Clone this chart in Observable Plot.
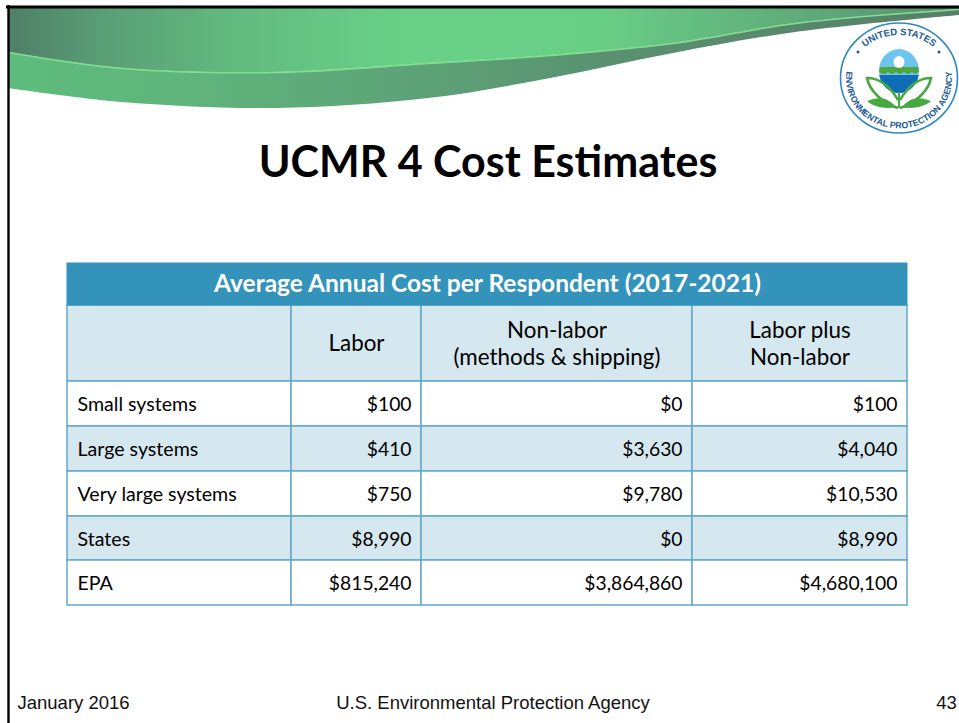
<!DOCTYPE html>
<html><head><meta charset="utf-8">
<script src="https://cdn.jsdelivr.net/npm/d3@7"></script>
<script src="https://cdn.jsdelivr.net/npm/@observablehq/plot@0.6"></script>
<style>html,body{margin:0;padding:0;background:#fff}svg{display:block}</style>
</head><body><div id="chart"></div>
<script>
const title = "UCMR 4 Cost Estimates";
const tableTitle = "Average Annual Cost per Respondent (2017-2021)";
const columnHeads = ["", "Labor", "Non-labor\n(methods & shipping)", "Labor plus\nNon-labor"];
const respondents = ["Small systems", "Large systems", "Very large systems", "States", "EPA"];
const labor = [100, 410, 750, 8990, 815240];
const nonLabor = [0, 3630, 9780, 0, 3864860];
const laborPlus = [100, 4040, 10530, 8990, 4680100];
const footer = ["January 2016", "U.S. Environmental Protection Agency", "43"];

// slide layout, in slide units
const colEdges = [67, 291, 421, 692, 907];
const rowEdges = [263, 305, 381, 426, 471, 516, 560, 605];
const bannerX = [8, 122, 275, 428, 550, 673, 795, 959];
const bannerTop = [8, 8, 8, 8, 8, 8, 8, 8];
const bannerMid = [52, 68, 72, 63, 55, 43, 23, 9];
const bannerLow = [88, 102, 108, 98, 78, 53, 32, 15];

const fmt = d3.format("$,");
const money = [labor, nonLabor, laborPlus];
const cal = "Lato, Carlito, Calibri, sans-serif";

const banner = bannerX.map((x, i) => ({x, top: bannerTop[i], mid: bannerMid[i], low: bannerLow[i]}));
const bodyRows = respondents.map((_, i) => ({y1: rowEdges[i + 2], y2: rowEdges[i + 3], shaded: i % 2 === 1}));
const columns = colEdges.slice(0, -1).map((x1, j) => ({x1, x2: colEdges[j + 1]}));
const cells = [];
columns.forEach((c, j) => {
  cells.push({...c, y1: rowEdges[1], y2: rowEdges[2], fill: "#d5e7ef"});
  bodyRows.forEach(r => cells.push({...c, y1: r.y1, y2: r.y2, fill: r.shaded ? "#d5e7ef" : "#ffffff"}));
});
const headLabels = columns.map((c, j) => ({x: (c.x1 + c.x2) / 2, y: (rowEdges[1] + rowEdges[2]) / 2 - 1, t: columnHeads[j]}));
const nameLabels = bodyRows.map((r, i) => ({x: colEdges[0] + 10, y: (r.y1 + r.y2) / 2 + 1, t: respondents[i]}));
const valueLabels = bodyRows.flatMap((r, i) => money.map((m, j) => ({x: colEdges[j + 2] - 10, y: (r.y1 + r.y2) / 2 + 1, t: fmt(m[i])})));

function defs() {
  const d = d3.create("svg:defs");
  const grad = (id, stops) => {
    const g = d.append("linearGradient").attr("id", id).attr("gradientUnits", "userSpaceOnUse")
      .attr("x1", 0).attr("x2", 959).attr("y1", 0).attr("y2", 0);
    stops.forEach(([o, c]) => g.append("stop").attr("offset", o).attr("stop-color", c));
  };
  grad("bandTop", [[0, "#4e7c66"], [0.1, "#599c75"], [0.25, "#62bb7f"], [0.42, "#69d087"], [0.62, "#69cf86"], [0.78, "#62b47d"], [1, "#5a9070"]]);
  grad("bandLow", [[0, "#5dbd7c"], [0.2, "#5fb47b"], [0.4, "#5da578"], [0.65, "#5a9070"], [1, "#567f68"]]);
  d.append("path").attr("id", "sealTop").attr("d", "M 850 78 A 49 43 0 0 1 948 78");
  d.append("path").attr("id", "sealBottom").attr("d", "M 865 40 A 53 50 0 1 0 933 40");
  return d.node();
}

function seal() {
  const g = d3.create("svg:g");
  g.append("ellipse").attr("cx", 899).attr("cy", 78).attr("rx", 58.5).attr("ry", 55).attr("fill", "#fff").attr("stroke", "#2f86c4").attr("stroke-width", 1.6);
  g.append("ellipse").attr("cx", 899).attr("cy", 71).attr("rx", 20).attr("ry", 22).attr("fill", "#6cc5ef");
  g.append("path").attr("d", "M 879.3 75 A 20 22 0 0 0 918.7 75 Z").attr("fill", "#0e6db6");
  g.append("path").attr("d", "M 880 67 L 918 67 L 919 71 Q 916 76 912 72 Q 908 76 904 72 Q 900 76 896 72 Q 892 76 888 72 Q 884 76 879 72 Z").attr("fill", "#4fa63c");
  g.append("ellipse").attr("cx", 899).attr("cy", 62).attr("rx", 5.5).attr("ry", 6).attr("fill", "#fff");
  for (const cx of [858, 939]) g.append("circle").attr("cx", cx).attr("cy", 52).attr("r", 1.5).attr("fill", "#1b5a96");
  const green = "#46a83f";
  g.append("path").attr("d", "M 898 108 L 900 108 L 900 92 L 898 92 Z").attr("fill", green);
  for (const s of [1, -1]) {
    const X = v => 899 + s * v;
    g.append("path").attr("d", `M ${X(-1)} 100 C ${X(-8)} 88 ${X(-18)} 78 ${X(-32)} 78 C ${X(-30)} 90 ${X(-16)} 104 ${X(-1)} 108`).attr("fill", "none").attr("stroke", green).attr("stroke-width", 2.6);
    g.append("path").attr("d", `M ${X(-3)} 107 C ${X(-12)} 96 ${X(-22)} 97 ${X(-32)} 101 C ${X(-24)} 108 ${X(-12)} 109 ${X(-3)} 107 Z`).attr("fill", green);
  }
  const t = (id, str, size) => g.append("text").attr("font-family", "Liberation Sans, Arial, sans-serif").attr("font-size", size).attr("font-weight", 700).attr("fill", "#1b5a96").attr("text-anchor", "middle")
    .append("textPath").attr("href", "#" + id).attr("startOffset", "50%").text(str);
  t("sealTop", "UNITED STATES", 9.5);
  t("sealBottom", "ENVIRONMENTAL PROTECTION AGENCY", 8.8);
  return g.node();
}

const chart = Plot.plot({
  width: 959, height: 723, margin: 0,
  style: {background: "#ffffff", overflow: "hidden"},
  x: {domain: [0, 959], range: [0, 959], axis: null},
  y: {domain: [0, 723], range: [0, 723], axis: null},
  marks: [
    defs,
    Plot.areaY(banner, {x: "x", y1: "mid", y2: "low", fill: "url(#bandLow)", curve: "catmull-rom"}),
    Plot.areaY(banner, {x: "x", y1: "top", y2: "mid", fill: "url(#bandTop)", curve: "catmull-rom"}),
    Plot.line(banner, {x: "x", y: "mid", stroke: "#7fdf8e", strokeWidth: 1.6, curve: "catmull-rom"}),
    // slide frame
    Plot.ruleY([6.5], {x1: 6, x2: 959, stroke: "#000", strokeWidth: 3}),
    Plot.ruleX([8], {y1: 5, y2: 723, stroke: "#000", strokeWidth: 2.4}),
    seal,
    Plot.text([title], {x: 487.5, y: 163, text: d => d, fontFamily: cal, fontWeight: 700, fontSize: 43, fill: "#000", lineAnchor: "middle"}),
    // table
    Plot.rect(cells, {x1: "x1", x2: "x2", y1: "y1", y2: "y2", fill: "fill", stroke: "#63a9c9", strokeWidth: 1.5}),
    Plot.rect([tableTitle], {x1: colEdges[0], x2: colEdges[4], y1: rowEdges[0], y2: rowEdges[1], fill: "#3493bb", stroke: "#3493bb"}),
    Plot.text([tableTitle], {x: (colEdges[0] + colEdges[4]) / 2, y: (rowEdges[0] + rowEdges[1]) / 2, text: d => d, fontFamily: cal, fontWeight: 700, fontSize: 24.5, fill: "#fff", lineAnchor: "middle"}),
    Plot.text(headLabels, {x: "x", y: "y", text: "t", fontFamily: cal, fontSize: 22.4, fill: "#000", lineAnchor: "middle", lineHeight: 1.2}),
    Plot.text(nameLabels, {x: "x", y: "y", text: "t", textAnchor: "start", fontFamily: cal, fontSize: 19.6, fill: "#000", lineAnchor: "middle"}),
    Plot.text(valueLabels, {x: "x", y: "y", text: "t", textAnchor: "end", fontFamily: cal, fontSize: 19.3, fill: "#000", lineAnchor: "middle"}),
    // footer
    Plot.text([footer[0]], {x: 17, y: 703, text: d => d, textAnchor: "start", fontFamily: "Liberation Sans", fontSize: 18.5, fill: "#111", lineAnchor: "middle"}),
    Plot.text([footer[1]], {x: 492.5, y: 703, text: d => d, fontFamily: "Liberation Sans", fontSize: 18.5, fill: "#111", lineAnchor: "middle"}),
    Plot.text([footer[2]], {x: 946, y: 703, text: d => d, fontFamily: "Liberation Sans", fontSize: 18.5, fill: "#111", lineAnchor: "middle"})
  ]
});
document.getElementById("chart").append(chart);
</script></body></html>
